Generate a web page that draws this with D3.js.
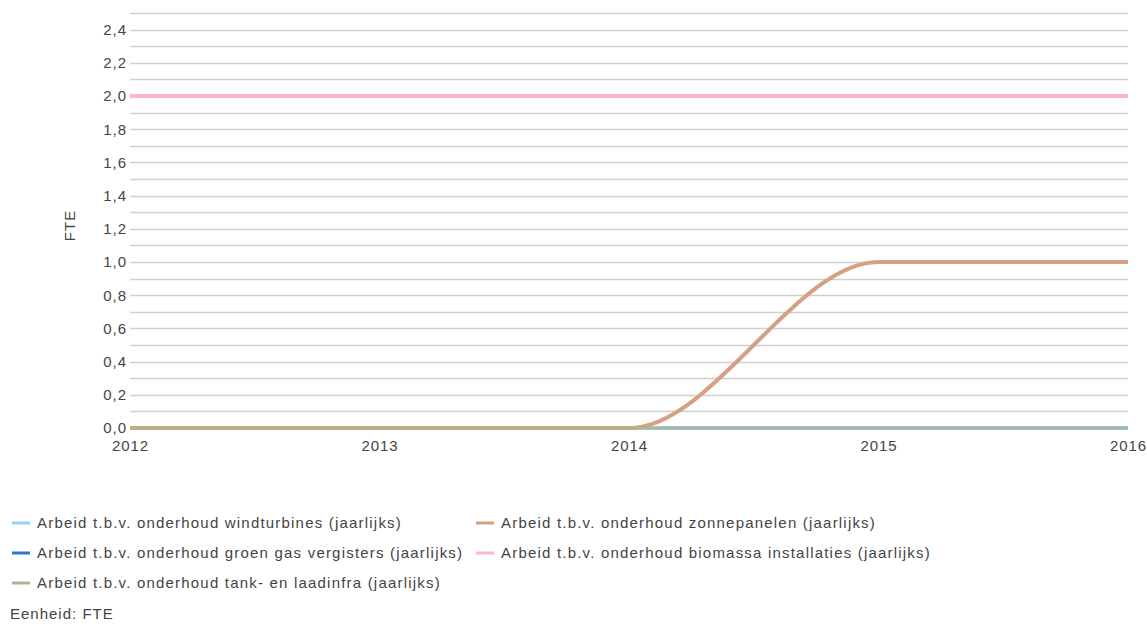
<!DOCTYPE html>
<html>
<head>
<meta charset="utf-8">
<script src="https://cdn.jsdelivr.net/npm/d3@7"></script>
<style>
  body { margin: 0; background: #fff; }
  svg text { font-family: "Liberation Sans", Arial, sans-serif; fill: #444; }
</style>
</head>
<body>
<svg id="chart" width="1147" height="624"></svg>
<script>
// Years on the horizontal axis
const years = [2012, 2013, 2014, 2015, 2016];

// Yearly maintenance labour per installation type (FTE)
const windturbines = [0, 0, 0, 0, 0];
const groenGas = [0, 0, 0, 0, 0];
const tankLaadinfra = [0, 0, 0, 0, 0];
const zonnepanelen = [0, 0, 0, 1, 1];
const biomassa = [2, 2, 2, 2, 2];

const seriesNames = [
  "Arbeid t.b.v. onderhoud windturbines (jaarlijks)",
  "Arbeid t.b.v. onderhoud groen gas vergisters (jaarlijks)",
  "Arbeid t.b.v. onderhoud tank- en laadinfra (jaarlijks)",
  "Arbeid t.b.v. onderhoud zonnepanelen (jaarlijks)",
  "Arbeid t.b.v. onderhoud biomassa installaties (jaarlijks)"
];
const seriesColors = ["#8fd3f5", "#2f73d8", "#b3b38d", "#d6a182", "#ffb5cb"];
const seriesValues = [windturbines, groenGas, tankLaadinfra, zonnepanelen, biomassa];

const yTicks = [0, 0.2, 0.4, 0.6, 0.8, 1.0, 1.2, 1.4, 1.6, 1.8, 2.0, 2.2, 2.4];
const yGrid = d3.range(0, 26).map(i => i / 10);

const svg = d3.select("#chart");
const plotLeft = 130, plotRight = 1128, plotTop = 13, plotBottom = 428;

const x = d3.scaleLinear().domain([2012, 2016]).range([plotLeft, plotRight]);
const y = d3.scaleLinear().domain([0, 2.5]).range([plotBottom, plotTop]);

// Horizontal grid lines every 0.1
svg.append("g").selectAll("line").data(yGrid).join("line")
  .attr("x1", plotLeft).attr("x2", plotRight)
  .attr("y1", d => Math.round(y(d)) + 0.5).attr("y2", d => Math.round(y(d)) + 0.5)
  .attr("stroke", "#cfcfcf").attr("stroke-width", 1.3);

const fmt = d => d3.format(".1f")(d).replace(".", ",");

// Y axis labels
const yAxis = svg.append("g").attr("transform", `translate(${plotLeft},0)`)
  .call(d3.axisLeft(y).tickValues(yTicks).tickFormat(fmt).tickSize(0).tickPadding(3));
yAxis.select(".domain").remove();
yAxis.selectAll("text").attr("font-size", 15).attr("letter-spacing", 1).attr("fill", "#444");

// X axis labels
const xAxis = svg.append("g").attr("transform", `translate(0,${plotBottom})`)
  .call(d3.axisBottom(x).tickValues(years).tickFormat(d3.format("d")).tickSize(0).tickPadding(12));
xAxis.select(".domain").remove();
xAxis.selectAll("text").attr("font-size", 15).attr("letter-spacing", 0.9).attr("fill", "#444");

// Axis title
svg.append("text")
  .attr("transform", `translate(75,${y(1.22)}) rotate(-90)`)
  .attr("text-anchor", "middle").attr("font-size", 15).attr("letter-spacing", 1).text("FTE");

// Lines; the tank line is drawn narrower on top so the zero lines show through
const line = d3.line()
  .x(d => x(d.year)).y(d => y(d.v))
  .curve(d3.curveMonotoneX);

const drawOrder = [1, 0, 3, 4, 2];
const widths = [4, 4, 2.5, 4, 4];
svg.append("g").selectAll("path").data(drawOrder).join("path")
  .attr("d", i => line(years.map((yr, k) => ({ year: yr, v: seriesValues[i][k] }))))
  .attr("fill", "none")
  .attr("stroke", i => seriesColors[i])
  .attr("stroke-width", i => widths[i])
  .attr("stroke-linejoin", "round");

// Legend
const legendPos = [
  { x: 12, y: 523 }, { x: 12, y: 553 }, { x: 12, y: 583 },
  { x: 476, y: 523 }, { x: 476, y: 553 }
];
const lg = svg.append("g").selectAll("g").data(seriesNames).join("g")
  .attr("transform", (d, i) => `translate(${legendPos[i].x},${legendPos[i].y})`);
lg.append("line").attr("x1", 0).attr("x2", 18).attr("y1", 0).attr("y2", 0)
  .attr("stroke", (d, i) => seriesColors[i]).attr("stroke-width", 3);
lg.append("text").attr("x", 25).attr("y", 5).attr("font-size", 15)
  .attr("letter-spacing", 1.2).attr("fill", "#333").text(d => d);

svg.append("text").attr("x", 10).attr("y", 619).attr("font-size", 15)
  .attr("letter-spacing", 1).attr("fill", "#333").text("Eenheid: FTE");
</script>
</body>
</html>
